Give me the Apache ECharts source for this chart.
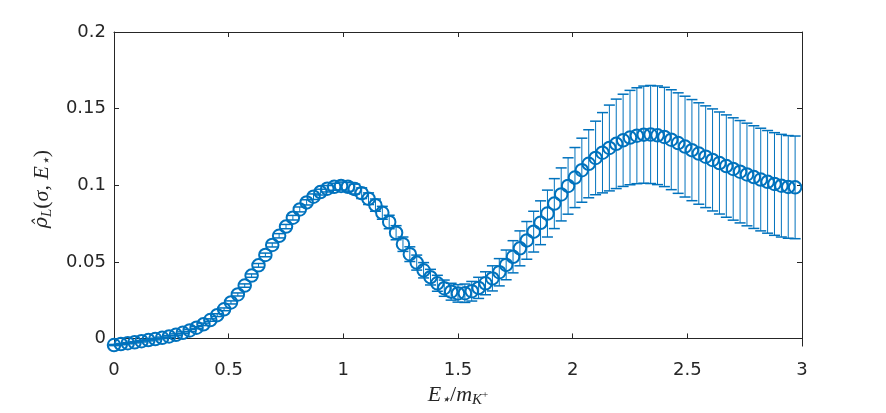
<!DOCTYPE html>
<html>
<head>
<meta charset="utf-8">
<script src="https://cdn.jsdelivr.net/npm/echarts@6/dist/echarts.min.js"></script>
<style>
  html, body { margin: 0; padding: 0; background: #fff; }
  #main { width: 886px; height: 413px; }
</style>
</head>
<body>
<div id="main"></div>
<script>
// E*/m_K+ positions
var energies = [
  0.00, 0.03, 0.06, 0.09, 0.12, 0.15, 0.18, 0.21, 0.24, 0.27,
  0.30, 0.33, 0.36, 0.39, 0.42, 0.45, 0.48, 0.51, 0.54, 0.57,
  0.60, 0.63, 0.66, 0.69, 0.72, 0.75, 0.78, 0.81, 0.84, 0.87,
  0.90, 0.93, 0.96, 0.99, 1.02, 1.05, 1.08, 1.11, 1.14, 1.17,
  1.20, 1.23, 1.26, 1.29, 1.32, 1.35, 1.38, 1.41, 1.44, 1.47,
  1.50, 1.53, 1.56, 1.59, 1.62, 1.65, 1.68, 1.71, 1.74, 1.77,
  1.80, 1.83, 1.86, 1.89, 1.92, 1.95, 1.98, 2.01, 2.04, 2.07,
  2.10, 2.13, 2.16, 2.19, 2.22, 2.25, 2.28, 2.31, 2.34, 2.37,
  2.40, 2.43, 2.46, 2.49, 2.52, 2.55, 2.58, 2.61, 2.64, 2.67,
  2.70, 2.73, 2.76, 2.79, 2.82, 2.85, 2.88, 2.91, 2.94, 2.97
];

// rho_L(sigma, E*)
var rho = [
  -0.0043, -0.0037, -0.0031, -0.0025, -0.0018, -0.0011, -0.0004, 0.0004, 0.0013, 0.0024,
  0.0037, 0.0052, 0.0070, 0.0092, 0.0120, 0.0152, 0.0190, 0.0235, 0.0287, 0.0345,
  0.0410, 0.0477, 0.0545, 0.0610, 0.0670, 0.0730, 0.0788, 0.0842, 0.0888, 0.0925,
  0.0955, 0.0977, 0.0990, 0.0995, 0.0990, 0.0975, 0.0948, 0.0912, 0.0870, 0.0820,
  0.0760, 0.0690, 0.0615, 0.0550, 0.0495, 0.0445, 0.0400, 0.0360, 0.0328, 0.0305,
  0.0294, 0.0295, 0.0308, 0.0330, 0.0360, 0.0392, 0.0432, 0.0480, 0.0533, 0.0588,
  0.0640, 0.0697, 0.0755, 0.0815, 0.0880, 0.0940, 0.0995, 0.1050, 0.1098, 0.1140,
  0.1178, 0.1212, 0.1243, 0.1270, 0.1293, 0.1311, 0.1323, 0.1330, 0.1331, 0.1326,
  0.1315, 0.1297, 0.1275, 0.1252, 0.1229, 0.1207, 0.1186, 0.1165, 0.1145, 0.1125,
  0.1106, 0.1088, 0.1070, 0.1053, 0.1037, 0.1022, 0.1008, 0.0997, 0.0989, 0.0986
];

// symmetric error
var rhoErr = [
  0.0004, 0.0004, 0.0004, 0.0004, 0.0005, 0.0005, 0.0005, 0.0005, 0.0006, 0.0006,
  0.0006, 0.0007, 0.0007, 0.0008, 0.0008, 0.0009, 0.0009, 0.0010, 0.0010, 0.0011,
  0.0011, 0.0012, 0.0012, 0.0013, 0.0014, 0.0014, 0.0015, 0.0016, 0.0017, 0.0018,
  0.0019, 0.0021, 0.0023, 0.0026, 0.0029, 0.0032, 0.0035, 0.0038, 0.0040, 0.0042,
  0.0044, 0.0046, 0.0047, 0.0048, 0.0049, 0.0050, 0.0051, 0.0052, 0.0053, 0.0055,
  0.0057, 0.0060, 0.0064, 0.0069, 0.0075, 0.0082, 0.0089, 0.0097, 0.0105, 0.0114,
  0.0123, 0.0133, 0.0143, 0.0153, 0.0163, 0.0173, 0.0184, 0.0196, 0.0209, 0.0222,
  0.0240, 0.0262, 0.0280, 0.0292, 0.0301, 0.0308, 0.0313, 0.0317, 0.0320, 0.0322,
  0.0324, 0.0326, 0.0328, 0.0329, 0.0330, 0.0331, 0.0332, 0.0333, 0.0333, 0.0334,
  0.0334, 0.0334, 0.0335, 0.0335, 0.0335, 0.0335, 0.0335, 0.0335, 0.0335, 0.0335
];

var yTicks = [0, 0.05, 0.1, 0.15, 0.2];

var blue = '#0072BD';
var axisColor = '#262626';
var labelFont = 'DejaVu Sans';

var points = [];
var bars = [];
for (var i = 0; i < energies.length; i++) {
    points.push([energies[i], rho[i]]);
    bars.push([energies[i], rho[i] - rhoErr[i], rho[i] + rhoErr[i]]);
}

function renderErrorBar(params, api) {
    var x = api.value(0);
    var top = api.coord([x, api.value(2)]);
    var bot = api.coord([x, api.value(1)]);
    var hw = 5.5;
    var capStyle = { stroke: blue, lineWidth: 1.5 };
    return {
        type: 'group',
        children: [
            { type: 'line', shape: { x1: top[0], y1: top[1], x2: bot[0], y2: bot[1] }, style: { stroke: blue, lineWidth: 1 } },
            { type: 'line', shape: { x1: top[0] - hw, y1: top[1], x2: top[0] + hw, y2: top[1] }, style: capStyle },
            { type: 'line', shape: { x1: bot[0] - hw, y1: bot[1], x2: bot[0] + hw, y2: bot[1] }, style: capStyle }
        ]
    };
}

var mathRich = {
    h: { fontFamily: 'DejaVu Serif', fontStyle: 'italic', fontSize: 19, lineHeight: 26, color: axisColor },
    i: { fontFamily: 'Liberation Serif', fontStyle: 'italic', fontSize: 22, lineHeight: 26, color: axisColor },
    n: { fontFamily: 'Liberation Serif', fontSize: 22, lineHeight: 26, color: axisColor },
    s: { fontFamily: 'Liberation Serif', fontStyle: 'italic', fontSize: 15, lineHeight: 15, verticalAlign: 'bottom', color: axisColor },
    ss: { fontFamily: 'Liberation Serif', fontSize: 11, lineHeight: 11, verticalAlign: 'middle', color: axisColor }
};

var tickStyle = { show: true, inside: true, length: 5, lineStyle: { color: axisColor, width: 1 } };

var option = {
    animation: false,
    backgroundColor: '#fff',
    grid: { left: 114, right: 84, top: 32, bottom: 66 },
    xAxis: [
        {
            type: 'value', min: 0, max: 3, interval: 0.5,
            axisLine: { lineStyle: { color: axisColor, width: 1 } },
            axisTick: tickStyle,
            splitLine: { show: false },
            axisLabel: { margin: 15, fontFamily: labelFont, fontSize: 18, color: axisColor },
            name: '{i|E}{s|⋆}{n|/}{i|m}{s|K}{ss|+}',
            nameLocation: 'middle',
            nameGap: 34,
            nameTextStyle: { rich: mathRich }
        },
        {
            type: 'value', min: 0, max: 3, interval: 0.5, position: 'top',
            axisLine: { onZero: false, lineStyle: { color: axisColor, width: 1 } },
            axisTick: tickStyle,
            axisLabel: { show: false },
            splitLine: { show: false }
        }
    ],
    yAxis: [
        {
            type: 'value', min: -0.005, max: 0.2,
            axisLine: { show: true, onZero: false, lineStyle: { color: axisColor, width: 1 } },
            axisTick: Object.assign({ customValues: yTicks }, tickStyle),
            splitLine: { show: false },
            axisLabel: { customValues: yTicks, margin: 8, fontFamily: labelFont, fontSize: 18, color: axisColor },
            name: '{h|ρ̂}{s|L}{n|(}{i|σ}{n|, }{i|E}{s|⋆}{n|)}',
            nameLocation: 'middle',
            nameRotate: 90,
            nameGap: 56,
            nameTextStyle: { rich: mathRich }
        },
        {
            type: 'value', min: -0.005, max: 0.2, position: 'right',
            axisLine: { show: true, onZero: false, lineStyle: { color: axisColor, width: 1 } },
            axisTick: Object.assign({ customValues: yTicks }, tickStyle),
            axisLabel: { show: false },
            splitLine: { show: false }
        }
    ],
    series: [
        {
            type: 'custom',
            renderItem: renderErrorBar,
            data: bars,
            clip: false,
            z: 2
        },
        {
            type: 'scatter',
            data: points,
            symbol: 'circle',
            symbolSize: 12.5,
            clip: false,
            itemStyle: { color: 'rgba(0,0,0,0)', borderColor: blue, borderWidth: 2, opacity: 1 },
            z: 3
        }
    ]
};

var myChart = echarts.init(document.getElementById('main'));
option && myChart.setOption(option);
</script>
</body>
</html>
